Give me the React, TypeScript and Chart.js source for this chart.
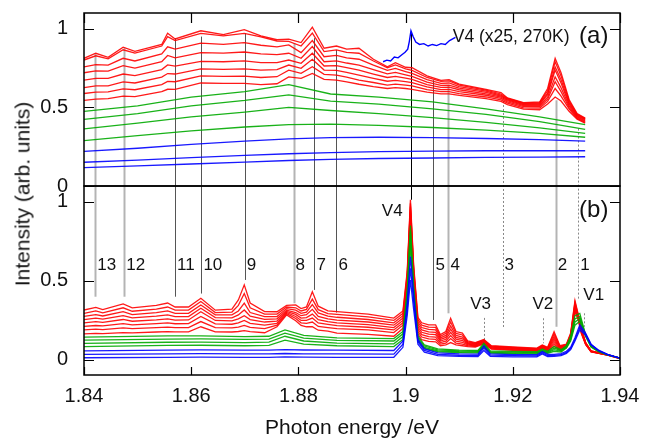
import React, { useEffect, useRef } from 'react';
import { Chart, registerables } from 'chart.js';

Chart.register(...registerables);

const FONT = '"Liberation Sans", Arial, Helvetica, sans-serif';

// ---------- axis ticks ----------
const X_TICKS = [1.84, 1.86, 1.88, 1.9, 1.92, 1.94];
const Y_TICKS = [0, 0.5, 1];

// ---------- panel (a) ----------
const TOP_RED_X = [1.840, 1.8422, 1.8445, 1.8473, 1.8495, 1.8545, 1.8556, 1.857, 1.8618, 1.866,
  1.8699, 1.873, 1.876, 1.8782, 1.8805, 1.8826, 1.8848, 1.8871, 1.889, 1.8913,
  1.894, 1.8966, 1.8981, 1.9, 1.9012, 1.904, 1.9066, 1.9081, 1.91, 1.915,
  1.9178, 1.919, 1.922, 1.925, 1.9265, 1.9279, 1.929, 1.9305, 1.932, 1.9335];
const TOP_RED_1 = [0.812,0.844,0.818,0.883,0.856,0.900,0.972,0.935,0.987,0.962,0.994,0.955,0.930,0.934,0.912,1.010,0.876,0.890,0.870,0.876,0.806,0.758,0.784,0.755,0.752,0.700,0.672,0.676,0.648,0.615,0.594,0.560,0.530,0.534,0.620,0.812,0.720,0.550,0.460,0.432];
const TOP_RED_2 = [0.801,0.828,0.808,0.866,0.845,0.890,0.950,0.925,0.970,0.955,0.970,0.948,0.922,0.919,0.890,0.972,0.855,0.865,0.850,0.844,0.795,0.752,0.770,0.745,0.735,0.690,0.665,0.668,0.642,0.610,0.585,0.557,0.527,0.530,0.605,0.790,0.700,0.540,0.455,0.428];
const TOP_RED_3 = [0.758,0.772,0.768,0.812,0.795,0.840,0.885,0.870,0.908,0.900,0.912,0.895,0.885,0.897,0.848,0.925,0.822,0.830,0.815,0.806,0.768,0.735,0.748,0.728,0.716,0.676,0.652,0.655,0.632,0.603,0.578,0.553,0.523,0.525,0.590,0.758,0.675,0.530,0.450,0.425];
const TOP_RED_4 = [0.720,0.732,0.730,0.765,0.750,0.790,0.830,0.815,0.848,0.845,0.852,0.840,0.835,0.844,0.812,0.887,0.790,0.795,0.782,0.769,0.740,0.713,0.722,0.707,0.697,0.660,0.640,0.642,0.622,0.595,0.572,0.548,0.518,0.519,0.580,0.737,0.655,0.520,0.445,0.420];
const TOP_RED_5 = [0.673,0.684,0.684,0.712,0.702,0.740,0.770,0.762,0.792,0.790,0.795,0.785,0.785,0.801,0.780,0.844,0.763,0.765,0.752,0.737,0.712,0.690,0.697,0.686,0.678,0.645,0.627,0.628,0.612,0.586,0.565,0.542,0.512,0.512,0.565,0.694,0.625,0.510,0.440,0.415];
const TOP_RED_6 = [0.626,0.636,0.637,0.662,0.655,0.692,0.715,0.712,0.745,0.742,0.745,0.737,0.740,0.769,0.748,0.806,0.737,0.735,0.722,0.705,0.685,0.666,0.672,0.664,0.658,0.630,0.613,0.614,0.600,0.577,0.557,0.535,0.505,0.504,0.552,0.663,0.600,0.500,0.435,0.410];
const TOP_RED_7 = [0.588,0.597,0.598,0.617,0.612,0.645,0.665,0.663,0.700,0.697,0.698,0.690,0.695,0.737,0.716,0.758,0.710,0.705,0.692,0.673,0.658,0.642,0.648,0.642,0.637,0.613,0.600,0.600,0.588,0.566,0.548,0.527,0.497,0.495,0.538,0.620,0.572,0.490,0.430,0.405];
const TOP_RED_8 = [0.545,0.553,0.556,0.572,0.568,0.600,0.615,0.614,0.655,0.652,0.652,0.645,0.650,0.694,0.684,0.716,0.678,0.673,0.662,0.647,0.632,0.620,0.625,0.620,0.615,0.597,0.586,0.586,0.576,0.555,0.538,0.518,0.489,0.485,0.522,0.566,0.540,0.475,0.425,0.400];

const TOP_SMOOTH_X = [1.840, 1.850, 1.860, 1.870, 1.8782, 1.886, 1.895, 1.905, 1.915, 1.925, 1.9335];
const TOP_GREEN_1 = [0.474, 0.510, 0.565, 0.600, 0.645, 0.585, 0.565, 0.535, 0.490, 0.440, 0.390];
const TOP_GREEN_2 = [0.423, 0.460, 0.510, 0.545, 0.580, 0.540, 0.520, 0.490, 0.455, 0.410, 0.360];
const TOP_GREEN_3 = [0.363, 0.400, 0.440, 0.470, 0.500, 0.480, 0.460, 0.435, 0.405, 0.370, 0.335];
const TOP_GREEN_4 = [0.288, 0.320, 0.350, 0.375, 0.390, 0.393, 0.385, 0.372, 0.355, 0.335, 0.310];
const TOP_BLUE_1 = [0.220, 0.240, 0.265, 0.285, 0.300, 0.308, 0.310, 0.308, 0.302, 0.295, 0.285];
const TOP_BLUE_2 = [0.151, 0.165, 0.180, 0.195, 0.205, 0.212, 0.218, 0.222, 0.224, 0.224, 0.224];
const TOP_BLUE_3 = [0.117, 0.128, 0.140, 0.152, 0.162, 0.169, 0.175, 0.178, 0.182, 0.184, 0.186];

// V4 (x25, 270K) inset trace
const INSET_X = [1.8958, 1.8965, 1.8972, 1.8979, 1.8986, 1.8993, 1.8999, 1.9004, 1.9007, 1.9010, 1.9014,
  1.9019, 1.9026, 1.9034, 1.9042, 1.905, 1.9058, 1.9066, 1.9074, 1.9082, 1.9093];
const INSET_Y = [0.790, 0.800, 0.795, 0.820, 0.815, 0.835, 0.850, 0.870, 0.920, 0.987, 0.950,
  0.915, 0.900, 0.905, 0.890, 0.900, 0.893, 0.905, 0.900, 0.925, 0.945];

// ---------- panel (b) ----------
const BOT_RED_X = [1.840, 1.8422, 1.8435, 1.8473, 1.849, 1.8535, 1.8556, 1.857, 1.8595, 1.8618,
  1.8645, 1.8676, 1.8688, 1.8699, 1.871, 1.8737, 1.876, 1.8778, 1.8795, 1.8805,
  1.8815, 1.8826, 1.8837, 1.8855, 1.8872, 1.893, 1.8978, 1.8995, 1.9003, 1.9009,
  1.9015, 1.9023, 1.903, 1.9043, 1.9056, 1.9065, 1.9075, 1.9084, 1.9094, 1.9106,
  1.9116, 1.913, 1.9146, 1.916, 1.92, 1.9245, 1.9255, 1.9265, 1.9277, 1.9288,
  1.93, 1.9308, 1.9316, 1.9322, 1.9328, 1.9336, 1.9346, 1.9377, 1.94];
const BOT_RED_1 = [0.316,0.333,0.318,0.355,0.330,0.345,0.360,0.335,0.335,0.390, 0.315,0.322,0.380,0.475,0.360,0.306,0.305,0.345,0.348,0.325, 0.335,0.432,0.340,0.310,0.306,0.290,0.265,0.310,0.560,1.013, 0.600,0.270,0.235,0.222,0.222,0.160,0.180,0.264,0.180,0.170, 0.120,0.110,0.130,0.090,0.082,0.075,0.095,0.080,0.179,0.090, 0.100,0.170,0.375,0.290,0.200,0.110,0.058,0.033,0.012];
const BOT_RED_2 = [0.295,0.310,0.298,0.330,0.308,0.322,0.335,0.315,0.315,0.370, 0.300,0.303,0.345,0.420,0.330,0.290,0.290,0.335,0.330,0.310, 0.320,0.385,0.318,0.293,0.288,0.273,0.250,0.295,0.545,0.990, 0.585,0.255,0.220,0.208,0.206,0.150,0.168,0.240,0.168,0.158, 0.115,0.106,0.126,0.087,0.079,0.072,0.092,0.077,0.165,0.086, 0.097,0.165,0.365,0.285,0.195,0.108,0.057,0.033,0.012];
const BOT_RED_3 = [0.275,0.287,0.278,0.305,0.287,0.300,0.310,0.295,0.295,0.348, 0.285,0.285,0.310,0.360,0.300,0.274,0.275,0.325,0.315,0.295, 0.303,0.350,0.298,0.277,0.270,0.256,0.235,0.280,0.530,0.970, 0.570,0.240,0.205,0.193,0.190,0.140,0.155,0.215,0.155,0.145, 0.110,0.102,0.122,0.084,0.076,0.070,0.089,0.074,0.150,0.082, 0.094,0.160,0.355,0.280,0.190,0.106,0.056,0.032,0.011];
const BOT_RED_4 = [0.255,0.265,0.258,0.280,0.266,0.277,0.285,0.274,0.274,0.327, 0.268,0.266,0.285,0.316,0.277,0.257,0.260,0.315,0.300,0.280, 0.286,0.320,0.276,0.260,0.252,0.240,0.220,0.265,0.515,0.950, 0.555,0.225,0.190,0.178,0.175,0.130,0.143,0.195,0.143,0.134, 0.105,0.098,0.118,0.081,0.073,0.067,0.086,0.071,0.137,0.078, 0.091,0.155,0.345,0.275,0.185,0.104,0.055,0.032,0.011];
const BOT_RED_5 = [0.235,0.243,0.238,0.256,0.245,0.254,0.260,0.252,0.253,0.305, 0.250,0.247,0.260,0.280,0.255,0.240,0.246,0.307,0.288,0.265, 0.268,0.290,0.255,0.243,0.235,0.224,0.205,0.250,0.500,0.930, 0.540,0.210,0.175,0.163,0.160,0.120,0.131,0.175,0.131,0.123, 0.100,0.094,0.114,0.078,0.070,0.065,0.083,0.068,0.124,0.074, 0.088,0.150,0.335,0.270,0.180,0.102,0.054,0.031,0.010];
const BOT_RED_6 = [0.212,0.218,0.215,0.230,0.222,0.230,0.235,0.229,0.230,0.275, 0.228,0.226,0.235,0.250,0.232,0.220,0.232,0.300,0.275,0.250, 0.250,0.265,0.234,0.225,0.217,0.207,0.190,0.235,0.485,0.910, 0.525,0.195,0.160,0.148,0.145,0.110,0.119,0.155,0.119,0.112, 0.095,0.090,0.110,0.075,0.067,0.062,0.080,0.065,0.111,0.070, 0.085,0.145,0.325,0.265,0.175,0.100,0.053,0.031,0.010];
const BOT_RED_7 = [0.190,0.195,0.192,0.203,0.198,0.205,0.208,0.204,0.205,0.243, 0.204,0.203,0.208,0.218,0.206,0.198,0.220,0.293,0.262,0.235, 0.232,0.240,0.212,0.205,0.198,0.190,0.173,0.220,0.470,0.890, 0.510,0.180,0.145,0.133,0.130,0.100,0.107,0.135,0.107,0.100, 0.090,0.086,0.106,0.072,0.064,0.060,0.077,0.062,0.098,0.066, 0.082,0.140,0.315,0.260,0.170,0.098,0.052,0.030,0.009];
const BOT_RED_8 = [0.165,0.168,0.167,0.173,0.171,0.177,0.179,0.178,0.178,0.210, 0.178,0.177,0.180,0.185,0.179,0.172,0.210,0.285,0.248,0.218, 0.210,0.210,0.188,0.182,0.170,0.162,0.150,0.200,0.455,0.870, 0.495,0.165,0.128,0.117,0.115,0.090,0.095,0.110,0.095,0.090, 0.085,0.082,0.102,0.069,0.061,0.057,0.074,0.059,0.085,0.062, 0.079,0.135,0.305,0.255,0.165,0.096,0.051,0.030,0.009];

const BOT_GB_X = [1.840, 1.8556, 1.8618, 1.870, 1.8745, 1.8775, 1.881, 1.8872, 1.8978, 1.8995,
  1.9003, 1.9009, 1.9015, 1.9023, 1.9035, 1.906, 1.910, 1.9135, 1.9146, 1.9158,
  1.920, 1.9245, 1.9255, 1.9265, 1.9277, 1.929, 1.930, 1.9308, 1.9316, 1.9325,
  1.9335, 1.9346, 1.936, 1.9377, 1.940];
const BOT_GREEN_1 = [0.145,0.152,0.152,0.148,0.150,0.190,0.155,0.140,0.135,0.180, 0.440,0.850,0.470,0.150,0.095,0.070,0.062,0.060,0.105,0.058, 0.055,0.052,0.070,0.055,0.085,0.065,0.090,0.150,0.280,0.295, 0.170,0.088,0.055,0.033,0.012];
const BOT_GREEN_2 = [0.125,0.132,0.133,0.130,0.132,0.170,0.138,0.124,0.120,0.165, 0.420,0.810,0.450,0.140,0.088,0.064,0.057,0.055,0.097,0.053, 0.050,0.047,0.065,0.050,0.075,0.060,0.085,0.140,0.260,0.275, 0.165,0.086,0.055,0.033,0.012];
const BOT_GREEN_3 = [0.105,0.112,0.113,0.110,0.113,0.150,0.120,0.107,0.102,0.148, 0.400,0.770,0.430,0.130,0.080,0.058,0.052,0.050,0.090,0.048, 0.045,0.043,0.060,0.046,0.065,0.055,0.080,0.130,0.240,0.260, 0.160,0.084,0.054,0.032,0.011];
const BOT_GREEN_4 = [0.085,0.092,0.093,0.090,0.092,0.125,0.100,0.090,0.085,0.130, 0.380,0.730,0.410,0.120,0.073,0.052,0.047,0.045,0.082,0.043, 0.040,0.039,0.055,0.042,0.055,0.050,0.075,0.120,0.220,0.245, 0.155,0.082,0.053,0.032,0.011];
const BOT_BLUE_1 = [0.058,0.062,0.064,0.062,0.062,0.066,0.063,0.062,0.060,0.120, 0.360,0.654,0.420,0.130,0.070,0.045,0.038,0.037,0.090,0.038, 0.034,0.033,0.053,0.035,0.036,0.040,0.055,0.080,0.140,0.222, 0.175,0.100,0.062,0.035,0.012];
const BOT_BLUE_2 = [0.035,0.038,0.040,0.038,0.038,0.041,0.039,0.038,0.037,0.100, 0.320,0.580,0.370,0.115,0.060,0.036,0.030,0.029,0.075,0.030, 0.027,0.026,0.045,0.028,0.029,0.033,0.048,0.072,0.130,0.205, 0.168,0.098,0.060,0.034,0.012];
const BOT_BLUE_3 = [0.014,0.016,0.018,0.017,0.017,0.019,0.018,0.017,0.017,0.080, 0.280,0.506,0.320,0.100,0.050,0.028,0.023,0.022,0.060,0.023, 0.020,0.020,0.038,0.022,0.023,0.027,0.042,0.065,0.120,0.190, 0.160,0.095,0.058,0.033,0.011];

// ---------- line markers spanning both panels ----------
const MARK_E = [1.8421, 1.8475, 1.857, 1.8619, 1.870, 1.8791, 1.883, 1.8871, 1.9011, 1.9052, 1.908, 1.9181, 1.928, 1.9322];
const MARK_TOP = [0.844, 0.88, 0.94, 0.95, 0.972, 0.908, 0.94, 0.865, 0.972, 0.673, 0.641, 0.566, 0.545, 0.365];
const MARK_BOTTOM = [0.40, 0.40, 0.40, 0.42, 0.506, 0.359, 0.443, 0.30, 1.013, 0.253, 0.295, 0.20, 0.21, 0.38];
const MARK_LABEL = ['13', '12', '11', '10', '9', '8', '7', '6', '', '5', '4', '3', '2', '1'];
const MARK_KIND = ['light', 'light', 'dark', 'dark', 'dark', 'light', 'dark', 'dark', 'black', 'dark', 'light', 'dot', 'light', 'dot'];

// V-line markers inside panel (b)
const V_NAMES = ['V3', 'V2', 'V1'];
const V_E = [1.9146, 1.9257, 1.9332];
const V_TOP = [0.266, 0.264, 0.295];
const V_BOTTOM = [0.116, 0.105, 0.21];

const zip = (xs: number[], ys: number[]) => xs.map((x, i) => ({ x, y: ys[i] }));

export default function App() {
  const ref = useRef<HTMLCanvasElement>(null);

  useEffect(() => {
    const canvas = ref.current;
    if (!canvas) return;
    const RED = 'rgba(255,0,0,0.9)';
    const GREEN = 'rgba(0,170,0,0.9)';
    const BLUE = 'rgba(0,0,255,0.9)';
    const mk = (data: any[], color: string, axis: string) => ({
      data, borderColor: color, backgroundColor: color, borderWidth: 1.3,
      pointRadius: 0, yAxisID: axis, fill: false, tension: 0,
    });

    const datasets: any[] = [
      ...[BOT_BLUE_1, BOT_BLUE_2, BOT_BLUE_3].map(ys => mk(zip(BOT_GB_X, ys), BLUE, 'yb')),
      ...[BOT_GREEN_1, BOT_GREEN_2, BOT_GREEN_3, BOT_GREEN_4].map(ys => mk(zip(BOT_GB_X, ys), GREEN, 'yb')),
      ...[BOT_RED_1, BOT_RED_2, BOT_RED_3, BOT_RED_4, BOT_RED_5, BOT_RED_6, BOT_RED_7, BOT_RED_8].map(ys => mk(zip(BOT_RED_X, ys), RED, 'yb')),
      { ...mk(zip(INSET_X, INSET_Y), 'rgb(0,0,255)', 'ya'), borderWidth: 1.4 },
      ...[TOP_BLUE_1, TOP_BLUE_2, TOP_BLUE_3].map(ys => mk(zip(TOP_SMOOTH_X, ys), BLUE, 'ya')),
      ...[TOP_GREEN_1, TOP_GREEN_2, TOP_GREEN_3, TOP_GREEN_4].map(ys => mk(zip(TOP_SMOOTH_X, ys), GREEN, 'ya')),
      ...[TOP_RED_1, TOP_RED_2, TOP_RED_3, TOP_RED_4, TOP_RED_5, TOP_RED_6, TOP_RED_7, TOP_RED_8].map(ys => mk(zip(TOP_RED_X, ys), RED, 'ya')),
    ];

    const deco = {
      id: 'deco',
      beforeDatasetsDraw(chart: any) {
        const { ctx, scales } = chart;
        const { x, ya, yb } = scales;
        MARK_E.forEach((e, i) => {
          const px = Math.round(x.getPixelForValue(e)) + 0.5;
          const kind = MARK_KIND[i];
          ctx.save();
          if (kind === 'light') { ctx.strokeStyle = '#b4b4b4'; ctx.lineWidth = 2; }
          else if (kind === 'dark') { ctx.strokeStyle = '#555'; ctx.lineWidth = 1; }
          else if (kind === 'black') { ctx.strokeStyle = '#000'; ctx.lineWidth = 1; }
          else { ctx.strokeStyle = '#888'; ctx.lineWidth = 1; ctx.setLineDash([2, 2]); }
          ctx.beginPath();
          ctx.moveTo(px, ya.getPixelForValue(MARK_TOP[i]));
          ctx.lineTo(px, yb.getPixelForValue(MARK_BOTTOM[i]));
          ctx.stroke();
          ctx.restore();
        });
        V_E.forEach((e, i) => {
          const px = Math.round(x.getPixelForValue(e)) + 0.5;
          ctx.save();
          ctx.strokeStyle = '#888'; ctx.lineWidth = 1; ctx.setLineDash([2, 2]);
          ctx.beginPath();
          ctx.moveTo(px, yb.getPixelForValue(V_TOP[i]));
          ctx.lineTo(px, yb.getPixelForValue(V_BOTTOM[i]));
          ctx.stroke();
          ctx.restore();
        });
      },
      afterDatasetsDraw(chart: any) {
        const { ctx, scales } = chart;
        const { x, ya, yb } = scales;
        const L = x.left, R = x.right;
        ctx.save();
        // frames
        ctx.strokeStyle = '#000';
        ctx.lineWidth = 1.5;
        ctx.strokeRect(L, ya.top, R - L, ya.bottom - ya.top);
        ctx.strokeRect(L, yb.top, R - L, yb.bottom - yb.top);
        // inward ticks
        ctx.lineWidth = 1.2;
        ctx.beginPath();
        [ya, yb].forEach((s: any) => {
          Y_TICKS.forEach(v => {
            const py = Math.round(s.getPixelForValue(v)) + 0.5;
            ctx.moveTo(L, py); ctx.lineTo(L + 10, py);
            ctx.moveTo(R, py); ctx.lineTo(R - 10, py);
          });
        });
        X_TICKS.forEach(v => {
          const px = Math.round(x.getPixelForValue(v)) + 0.5;
          ctx.moveTo(px, ya.top); ctx.lineTo(px, ya.top + 10);
          ctx.moveTo(px, yb.bottom); ctx.lineTo(px, yb.bottom - 8);
        });
        ctx.stroke();

        // labels
        ctx.fillStyle = '#111';
        ctx.textBaseline = 'middle';
        ctx.font = `17px ${FONT}`;
        ctx.textAlign = 'left';
        MARK_E.forEach((e, i) => {
          if (!MARK_LABEL[i]) return;
          ctx.fillText(MARK_LABEL[i], x.getPixelForValue(e) + 2, yb.getPixelForValue(0.6));
        });
        ctx.textAlign = 'center';
        ctx.fillText('V4', x.getPixelForValue(1.8975), yb.getPixelForValue(0.94));
        ctx.fillText(V_NAMES[0], x.getPixelForValue(1.9140), yb.getPixelForValue(0.354));
        ctx.fillText(V_NAMES[1], x.getPixelForValue(1.9256), yb.getPixelForValue(0.354));
        ctx.fillText(V_NAMES[2], x.getPixelForValue(1.9351), yb.getPixelForValue(0.41));
        ctx.textAlign = 'left';
        ctx.font = `17.5px ${FONT}`;
        ctx.fillText('V4 (x25, 270K)', x.getPixelForValue(1.9088), ya.getPixelForValue(0.949));
        ctx.textAlign = 'center';
        ctx.font = `24px ${FONT}`;
        ctx.fillText('(a)', x.getPixelForValue(1.9351), ya.getPixelForValue(0.949));
        ctx.fillText('(b)', x.getPixelForValue(1.9351), yb.getPixelForValue(0.945));
        ctx.restore();
      },
    };

    const yCommon = (min: number, max: number) => ({
      type: 'linear' as const,
      position: 'left' as const,
      stack: 'panels',
      min, max,
      afterBuildTicks: (s: any) => { s.ticks = Y_TICKS.map(v => ({ value: v })); },
      afterFit: (s: any) => { s.width = 84; s.paddingTop = 0; s.paddingBottom = 0; },
      grid: { display: false, drawTicks: false },
      border: { display: false },
      ticks: {
        font: { family: FONT, size: 20 }, color: '#111', padding: 16,
        callback: (v: any) => String(v),
      },
    });

    const chart = new Chart(canvas, {
      type: 'line',
      data: { datasets },
      options: {
        animation: false,
        responsive: false,
        devicePixelRatio: 1,
        events: [],
        layout: { padding: { left: 0, right: 33, top: 13, bottom: 0 } },
        plugins: { legend: { display: false }, tooltip: { enabled: false } },
        scales: {
          x: {
            type: 'linear', position: 'bottom', min: 1.84, max: 1.94,
            afterBuildTicks: (s: any) => { s.ticks = X_TICKS.map(v => ({ value: v })); },
            afterFit: (s: any) => { s.height = 64; },
            grid: { display: false, drawTicks: false },
            border: { display: false },
            ticks: {
              font: { family: FONT, size: 20 }, color: '#111', padding: 9,
              maxRotation: 0, autoSkip: false, callback: (v: any) => String(v),
            },
            title: {
              display: true, text: 'Photon energy /eV', color: '#111',
              font: { family: FONT, size: 21 }, padding: { top: 0, bottom: -2 },
            },
          },
          ya: { ...yCommon(0, 1.1), stackWeight: 173, weight: 2 },
          yb: { ...yCommon(-0.095, 1.1), stackWeight: 189, weight: 1 },
        } as any,
      },
      plugins: [deco],
    });
    return () => chart.destroy();
  }, []);

  return (
    <div style={{ position: 'fixed', left: 0, top: 0, width: 653, height: 439, background: '#fff', overflow: 'hidden' }}>
      <canvas ref={ref} width={653} height={439} style={{ position: 'absolute', left: 0, top: 0, width: 653, height: 439 }} />
      <div style={{
        position: 'absolute', left: 22, top: 194, transform: 'translate(-50%, -50%) rotate(-90deg)',
        whiteSpace: 'nowrap', fontFamily: FONT, fontSize: 21, color: '#111', lineHeight: 1,
      }}>Intensity (arb. units)</div>
    </div>
  );
}
